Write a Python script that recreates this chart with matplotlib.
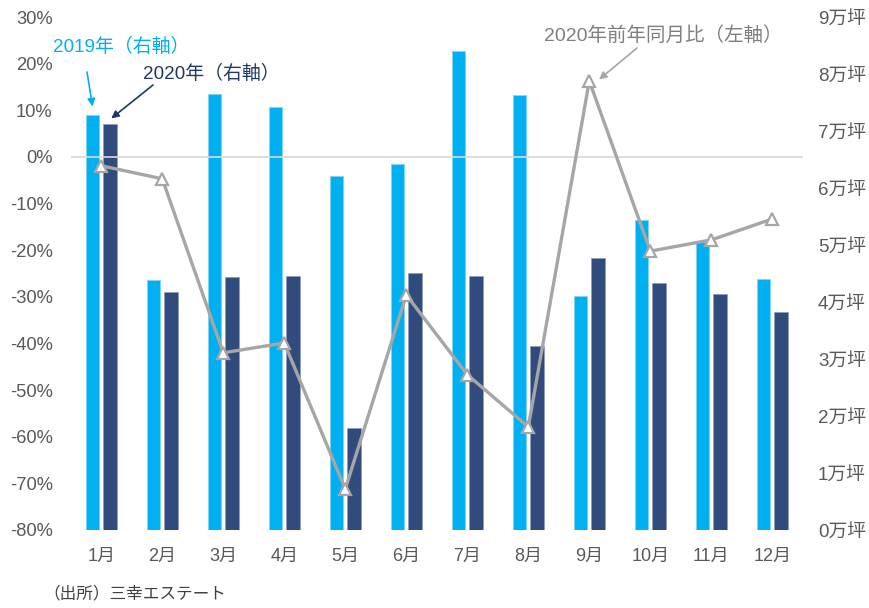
import numpy as np
import matplotlib
matplotlib.use("Agg")
import matplotlib.pyplot as plt
from matplotlib.ticker import FuncFormatter

plt.rcParams["font.family"] = ["Liberation Sans", "Noto Sans CJK JP"]

# data
months = ["1月", "2月", "3月", "4月", "5月", "6月", "7月", "8月", "9月", "10月", "11月", "12月"]
area_2019 = [7.28, 4.39, 7.65, 7.42, 6.21, 6.42, 8.40, 7.63, 4.11, 5.44, 5.05, 4.40]   # 万坪
area_2020 = [7.12, 4.18, 4.44, 4.46, 1.79, 4.51, 4.46, 3.23, 4.77, 4.33, 4.14, 3.82]   # 万坪
yoy_2020 = [-1.9, -4.7, -42.0, -39.9, -71.2, -29.6, -46.7, -57.9, 16.3, -20.2, -17.8, -13.3]  # %

c19 = "#00B0F0"
c20 = "#314B7D"
c_line = "#A6A6A6"
c_txt = "#595959"

fig = plt.figure(figsize=(8.69, 6.08), dpi=100)
ax = fig.add_axes([70.8 / 869, 1 - 530 / 608, 732 / 869, 513 / 608])
ax2 = ax.twinx()

x = np.arange(len(months))
w = 0.22
off = 0.143

# bars on right axis
ax2.bar(x - off, area_2019, w, color=c19, edgecolor="#7FD3F5", linewidth=0.6)
ax2.bar(x + off, area_2020, w, color=c20, edgecolor="#8E9CC0", linewidth=0.6)
ax2.set_ylim(0, 9)
ax2.set_yticks(range(0, 10))
ax2.yaxis.set_major_formatter(FuncFormatter(lambda v, p: f"{int(v)}万坪"))

# line on left axis, drawn above bars
ax.set_zorder(ax2.get_zorder() + 1)
ax.patch.set_visible(False)
ax.axhline(0, color="#D9D9D9", lw=1.2, zorder=1)
ax.plot(x, yoy_2020, color=c_line, lw=2.4, marker="^", ms=8,
        markerfacecolor="white", markeredgecolor=c_line, markeredgewidth=1.6, zorder=3)
ax.set_ylim(-80, 30)
ax.set_yticks(range(-80, 31, 10))
ax.yaxis.set_major_formatter(FuncFormatter(lambda v, p: f"{int(v)}%"))
ax.set_xlim(-0.5, len(months) - 0.5)
ax.set_xticks(x)
ax.set_xticklabels(months)

for a in (ax, ax2):
    for s in a.spines.values():
        s.set_visible(False)
ax.tick_params(axis="y", length=0, pad=13, labelsize=13.2, labelcolor=c_txt)
ax.tick_params(axis="x", length=0, pad=13, labelsize=13, labelcolor=c_txt)
ax2.tick_params(axis="y", length=0, pad=11, labelsize=13.5, labelcolor=c_txt)

# annotations
def px(xp, yp):
    return (xp, 608 - yp)

fig.text(121 / 869, 1 - 47 / 608, "2019年（右軸）", color=c19, fontsize=13.6,
         ha="center", va="center")
ax2.annotate("", xy=(0 - off, area_2019[0] + 0.15), xycoords="data",
             xytext=px(87, 72), textcoords="figure pixels",
             arrowprops=dict(arrowstyle="-|>", color=c19, lw=1.2, mutation_scale=11,
                             shrinkA=0, shrinkB=0))

fig.text(211 / 869, 1 - 74 / 608, "2020年（右軸）", color="#1F3864", fontsize=13.6,
         ha="center", va="center")
ax2.annotate("", xy=(0 + off + 0.02, area_2020[0] + 0.1), xycoords="data",
             xytext=px(153, 85), textcoords="figure pixels",
             arrowprops=dict(arrowstyle="-|>", color="#1F3864", lw=1.2, mutation_scale=11,
                             shrinkA=0, shrinkB=0))

fig.text(663 / 869, 1 - 36 / 608, "2020年前年同月比（左軸）", color="#7F7F7F", fontsize=14,
         ha="center", va="center")
ax.annotate("", xy=(8 + 0.16, yoy_2020[8] + 0.3), xycoords="data",
            xytext=px(637, 48), textcoords="figure pixels",
            arrowprops=dict(arrowstyle="-|>", color="#A6A6A6", lw=1.2, mutation_scale=11,
                            shrinkA=0, shrinkB=0))

fig.text(43 / 869, 1 - 593 / 608, "（出所）三幸エステート", color="#404040", fontsize=12,
         ha="left", va="center")

fig.savefig("out.png", dpi=100)
